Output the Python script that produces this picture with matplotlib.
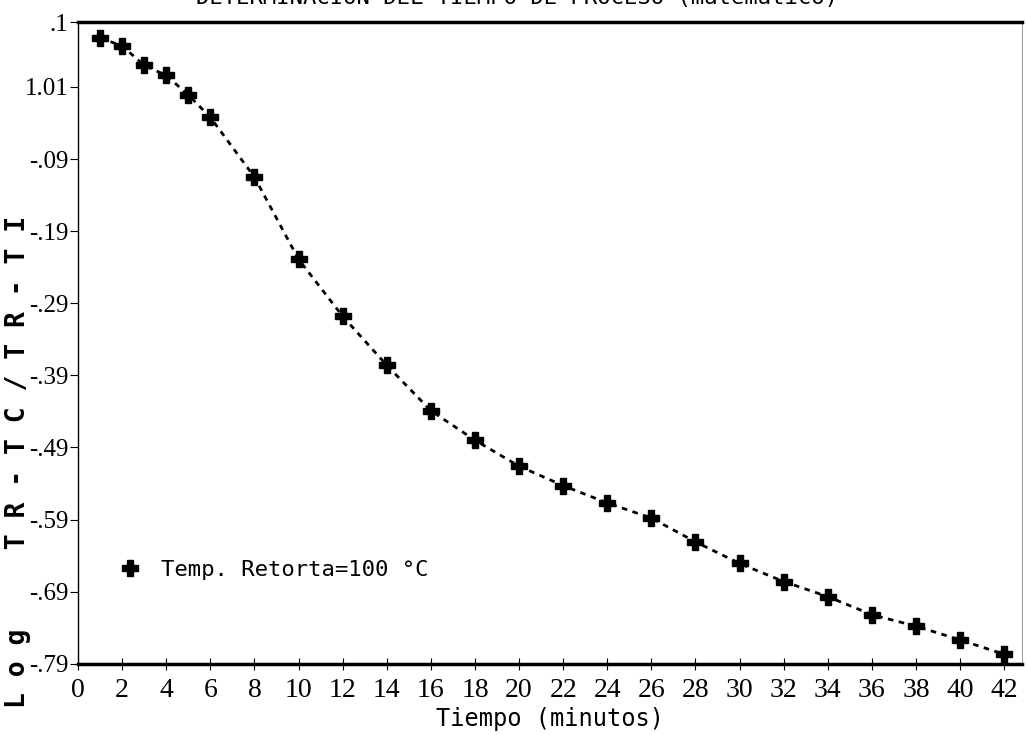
import numpy as np
import matplotlib
matplotlib.use("Agg")
import matplotlib.pyplot as plt

# minutos y log(TR-TC/TR-TI)
tiempo = [1, 2, 3, 4, 5, 6, 8, 10, 12, 14, 16, 18, 20, 22, 24, 26, 28, 30, 32, 34, 36, 38, 40, 42]
log_val = [0.078, 0.067, 0.040, 0.026, -0.001, -0.032, -0.115, -0.229, -0.308, -0.376,
           -0.439, -0.480, -0.516, -0.543, -0.567, -0.588, -0.621, -0.651, -0.676,
           -0.697, -0.722, -0.738, -0.757, -0.777]

x_ticks = list(range(0, 43, 2))
y_ticks = [0.1, 0.01, -0.09, -0.19, -0.29, -0.39, -0.49, -0.59, -0.69, -0.79]
y_labels = [".1", "1.01", "-.09", "-.19", "-.29", "-.39", "-.49", "-.59", "-.69", "-.79"]

plt.rcParams["font.family"] = ["DejaVu Sans Mono"]

fig = plt.figure(figsize=(10.26, 7.35), dpi=100)
ax = fig.add_axes([0.076, 0.097, 0.92, 0.873])

ax.plot(tiempo, log_val, color="black", linestyle=(0, (2, 2)), linewidth=2,
        marker="P", markersize=11, label="Temp. Retorta=100 °C")

ax.set_xlim(0, 42.8)
ax.set_ylim(-0.79, 0.1)
ax.set_xticks(x_ticks)
ax.set_xticklabels([str(t) for t in x_ticks])
ax.set_yticks(y_ticks)
ax.set_yticklabels(y_labels)
ax.tick_params(axis="x", direction="inout", length=8, labelsize=20, pad=6)
ax.tick_params(axis="y", direction="out", length=6, labelsize=18, pad=1)
for lbl in ax.get_xticklabels() + ax.get_yticklabels():
    lbl.set_family("Liberation Serif")

ax.spines["top"].set_linewidth(2.5)
ax.spines["bottom"].set_linewidth(2.5)
ax.spines["left"].set_linewidth(1)
ax.spines["right"].set_linewidth(0.6)
ax.spines["right"].set_color("#888888")

ax.set_xlabel("Tiempo (minutos)", fontsize=17, labelpad=3)

fig.text(0.018, 0.372, "L o g     T R - T C / T R - T I", rotation=90,
         fontsize=19, fontweight="bold", va="center", ha="center")
fig.text(0.504, 1.003, "DETERMINACION DEL TIEMPO DE PROCESO (matematico)",
         fontsize=16, ha="center", va="center")

ax.legend(loc="center left", bbox_to_anchor=(0.02, 0.146), frameon=False,
          handlelength=1.2, handletextpad=0.8, fontsize=16,
          markerscale=1.0)
for h in ax.get_legend().legend_handles:
    h.set_linestyle("none")

fig.savefig("out.png", dpi=100)
